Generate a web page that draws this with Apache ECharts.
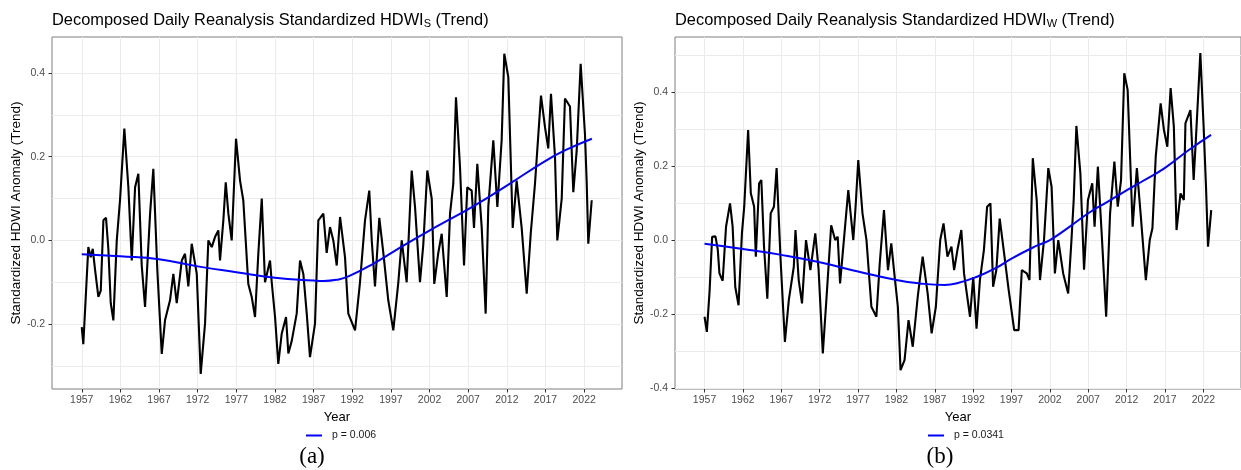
<!DOCTYPE html>
<html>
<head>
<meta charset="utf-8">
<title>Decomposed Daily Reanalysis Standardized HDWI (Trend)</title>
<script src="https://cdn.jsdelivr.net/npm/echarts@6/dist/echarts.min.js"></script>
<style>
  html, body { margin: 0; padding: 0; background: #ffffff; }
  #chart { width: 1241px; height: 470px; }
</style>
</head>
<body>
<div id="chart"></div>
<script>
// ---- Panel (a): HDWI_S trend component ----
const yearsS = [1957.0,1957.2,1957.56,1957.85,1958.16,1958.42,1958.72,1959.15,1959.46,1959.8,
  1960.14,1960.44,1960.75,1961.09,1961.53,1961.95,1962.51,1963.03,1963.47,1963.9,
  1964.32,1964.76,1965.19,1965.84,1966.26,1966.78,1967.35,1967.78,1968.42,1968.85,
  1969.29,1969.94,1970.36,1970.79,1971.23,1971.88,1972.39,1972.95,1973.38,1973.82,
  1974.24,1974.67,1974.89,1975.32,1975.63,1975.97,1976.4,1976.96,1977.48,1977.9,
  1978.55,1978.99,1979.42,1979.85,1980.29,1980.71,1981.36,1981.58,1982.01,1982.43,
  1982.87,1983.43,1983.73,1984.17,1984.81,1985.24,1985.67,1986.11,1986.53,1987.18,
  1987.61,1988.26,1988.69,1989.12,1989.55,1989.99,1990.42,1991.06,1991.49,1992.36,
  1993.0,1993.65,1994.2,1994.52,1994.94,1995.5,1996.02,1996.66,1997.31,1997.96,
  1998.4,1999.04,1999.69,2000.12,2000.76,2001.19,2001.71,2002.28,2002.61,2003.13,
  2003.57,2004.22,2004.65,2005.07,2005.42,2005.94,2006.46,2006.88,2007.45,2007.75,
  2008.18,2008.75,2009.26,2009.6,2010.25,2010.77,2011.33,2011.67,2012.19,2012.76,
  2013.27,2013.92,2014.57,2015.09,2015.64,2016.42,2016.94,2017.36,2017.71,2018.23,
  2018.53,2019.1,2019.52,2020.17,2020.6,2021.04,2021.55,2022.11,2022.33,2022.54,
  2022.98];
const valuesS = [-0.207,-0.248,-0.12,-0.016,-0.04,-0.02,-0.07,-0.135,-0.12,0.048,
  0.054,-0.02,-0.15,-0.191,0.0,0.096,0.267,0.127,-0.048,0.127,
  0.159,-0.06,-0.159,0.064,0.171,-0.072,-0.271,-0.19,-0.143,-0.08,
  -0.15,-0.048,-0.032,-0.11,-0.008,-0.08,-0.319,-0.199,0.0,-0.016,
  0.008,0.024,-0.048,0.048,0.139,0.064,0.0,0.243,0.143,0.096,
  -0.104,-0.135,-0.183,-0.03,0.1,-0.1,-0.048,-0.10,-0.183,-0.295,
  -0.223,-0.183,-0.27,-0.24,-0.175,-0.048,-0.08,-0.175,-0.279,-0.199,
  0.048,0.064,-0.03,0.032,0.0,-0.06,0.056,-0.04,-0.175,-0.215,
  -0.1,0.048,0.119,0.0,-0.11,0.054,-0.03,-0.143,-0.215,-0.1,
  0.0,-0.1,0.167,0.08,-0.1,-0.01,0.167,0.1,-0.104,-0.03,
  0.016,-0.135,0.064,0.135,0.342,0.175,-0.06,0.127,0.119,0.03,
  0.183,0.03,-0.175,0.08,0.239,0.08,0.24,0.446,0.39,0.03,
  0.143,0.03,-0.127,0.016,0.135,0.346,0.27,0.22,0.35,0.2,
  0.0,0.1,0.339,0.32,0.115,0.215,0.422,0.253,0.14,-0.008,
  0.096];
// smoothed (loess) fit for panel (a)
const fitYearsS = [1957,1962,1967,1972,1977,1982,1987,1988.3,1990,1991.5,1994.7,1999,2003,2007.7,2012,2016.9,2019.5,2023];
const fitS = [-0.033,-0.038,-0.045,-0.062,-0.076,-0.089,-0.096,-0.097,-0.094,-0.086,-0.056,-0.008,0.034,0.082,0.131,0.189,0.215,0.243];

// ---- Panel (b): HDWI_W trend component ----
const yearsW = [1957.0,1957.3,1957.65,1957.99,1958.42,1958.72,1958.94,1959.36,1959.8,1960.32,
  1960.66,1961.0,1961.43,1961.87,1962.17,1962.68,1963.03,1963.46,1963.68,1964.11,
  1964.4,1964.75,1965.18,1965.62,1966.04,1966.39,1966.91,1967.47,1967.98,1968.63,
  1968.85,1969.27,1969.7,1970.22,1970.79,1971.43,1971.86,1972.41,1972.93,1973.5,
  1974.02,1974.35,1974.66,1975.31,1975.73,1976.38,1976.68,1977.03,1977.58,1978.1,
  1978.74,1979.39,1979.83,1980.38,1980.9,1981.33,1981.77,1982.19,1982.54,1983.06,
  1983.58,1984.13,1984.78,1985.42,1986.07,1986.59,1987.14,1987.71,1988.14,1988.65,
  1989.17,1989.52,1989.95,1990.46,1990.81,1991.59,1992.01,1992.44,1992.88,1993.4,
  1993.82,1994.25,1994.6,1995.02,1995.46,1995.98,1996.63,1997.35,1997.92,1998.34,
  1998.99,1999.34,1999.77,2000.28,2000.71,2001.23,2001.79,2002.22,2002.65,2003.09,
  2003.73,2004.38,2004.81,2005.1,2005.45,2005.97,2006.45,2006.96,2007.52,2007.82,
  2008.25,2008.77,2009.33,2009.84,2010.4,2010.84,2011.27,2011.69,2012.13,2012.78,
  2013.33,2013.85,2014.5,2015.01,2015.36,2015.79,2016.43,2016.86,2017.3,2017.73,
  2018.15,2018.5,2019.02,2019.45,2019.66,2020.31,2020.73,2021.04,2021.6,2022.03,
  2022.34,2022.6,2023.02];
const valuesW = [-0.207,-0.248,-0.14,0.009,0.01,-0.025,-0.09,-0.11,0.036,0.099,
  0.036,-0.126,-0.176,0.018,0.09,0.297,0.126,0.09,-0.045,0.153,
  0.162,-0.018,-0.158,0.072,0.09,0.194,-0.054,-0.275,-0.162,-0.072,
  0.027,-0.108,-0.171,0.0,-0.081,0.018,-0.08,-0.306,-0.144,0.04,
  0.0,0.009,-0.117,0.036,0.135,0.0,0.09,0.216,0.072,0.0,
  -0.18,-0.207,-0.063,0.081,-0.081,-0.009,-0.099,-0.18,-0.351,-0.324,
  -0.216,-0.288,-0.153,-0.045,-0.144,-0.252,-0.18,0.0,0.045,-0.045,
  -0.018,-0.081,-0.027,0.027,-0.09,-0.207,-0.1,-0.239,-0.108,-0.027,
  0.09,0.099,-0.126,-0.081,0.058,-0.027,-0.135,-0.243,-0.243,-0.081,
  -0.09,-0.108,0.221,0.108,-0.108,0.0,0.194,0.144,-0.09,0.0,
  -0.09,-0.144,0.0,0.108,0.308,0.18,-0.08,0.108,0.153,0.036,
  0.198,0.009,-0.207,0.072,0.212,0.09,0.162,0.45,0.405,0.036,
  0.194,0.063,-0.108,0.0,0.032,0.225,0.369,0.297,0.252,0.41,
  0.306,0.027,0.126,0.108,0.315,0.351,0.162,0.279,0.505,0.306,
  0.144,-0.018,0.081];
// smoothed (loess) fit for panel (b)
const fitYearsW = [1957,1962,1967,1972,1977,1982,1985,1988.3,1990,1992.5,1995,1997,2000,2002,2004.5,2007.2,2009.5,2011.5,2014,2017,2020.1,2023];
const fitW = [-0.010,-0.024,-0.040,-0.060,-0.085,-0.108,-0.117,-0.121,-0.116,-0.099,-0.075,-0.05,-0.018,0.0,0.035,0.075,0.103,0.128,0.158,0.195,0.243,0.284];

// ---- Axis ticks and labels ----
const yearTicks = [1957,1962,1967,1972,1977,1982,1987,1992,1997,2002,2007,2012,2017,2022];
const yTicksS = [-0.2,0.0,0.2,0.4];
const yMinorS = [-0.3,-0.1,0.1,0.3];
const yTicksW = [-0.4,-0.2,0.0,0.2,0.4];
const yMinorW = [-0.3,-0.1,0.1,0.3,0.5];
const titleS = 'Decomposed Daily Reanalysis Standardized HDWI{sub|S} (Trend)';
const titleW = 'Decomposed Daily Reanalysis Standardized HDWI{sub|W} (Trend)';
const yName = 'Standardized HDWI Anomaly (Trend)';
const xName = 'Year';
const legendS = 'p = 0.006';
const legendW = 'p = 0.0341';

const FONT = '"Liberation Sans", Arial, Helvetica, sans-serif';
const SERIF = '"Liberation Serif", "DejaVu Serif", serif';
const GRID_COLOR = '#ebebeb';

const zip = (xs, ys) => xs.map((x, i) => [x, ys[i]]);

function titleOpt(text, left) {
  return {
    text: text, left: left, top: 11, padding: 0,
    textStyle: {
      fontFamily: FONT, fontSize: 16.4, fontWeight: 'normal', color: '#000', lineHeight: 18,
      rich: { sub: { fontFamily: FONT, fontSize: 11, color: '#000', verticalAlign: 'bottom', lineHeight: 9 } }
    }
  };
}

function xAxisOpt(gridIndex) {
  return {
    gridIndex: gridIndex, type: 'value', min: 1953.15, max: 2026.9, position: 'bottom',
    name: xName, nameLocation: 'middle', nameGap: 20,
    nameTextStyle: { fontFamily: FONT, fontSize: 13, color: '#000' },
    axisLine: { show: false, onZero: false },
    axisTick: { show: true, length: 3.5, customValues: yearTicks, lineStyle: { color: '#333', width: 1 } },
    axisLabel: { customValues: yearTicks, fontFamily: FONT, fontSize: 10.5, color: '#4d4d4d', margin: 6,
                 formatter: v => String(Math.round(v)) },
    splitLine: { show: true, lineStyle: { color: GRID_COLOR, width: 1 } }
  };
}

function yAxisOpt(gridIndex, min, max, ticks) {
  return {
    gridIndex: gridIndex, type: 'value', min: min, max: max, position: 'left',
    name: yName, nameLocation: 'middle', nameGap: 28, nameRotate: 90,
    nameTextStyle: { fontFamily: FONT, fontSize: 13.5, color: '#000' },
    axisLine: { show: false, onZero: false },
    axisTick: { show: true, length: 3.5, customValues: ticks, lineStyle: { color: '#333', width: 1 } },
    axisLabel: { customValues: ticks, fontFamily: FONT, fontSize: 10.5, color: '#4d4d4d', margin: 7,
                 formatter: v => v.toFixed(1) },
    splitLine: { show: true, lineStyle: { color: GRID_COLOR, width: 1 } }
  };
}

// second value axis on each panel carrying only the minor horizontal grid lines
function yMinorOpt(gridIndex, min, max, ticks) {
  return {
    gridIndex: gridIndex, type: 'value', min: min, max: max, position: 'left',
    axisLine: { show: false, onZero: false },
    axisTick: { show: false, customValues: ticks },
    axisLabel: { show: false },
    splitLine: { show: true, lineStyle: { color: GRID_COLOR, width: 1 } }
  };
}

function legendOpt(name, left) {
  return {
    data: [name], left: left, top: 430, padding: 0, orient: 'horizontal',
    icon: 'rect', itemWidth: 16, itemHeight: 2, selectedMode: false,
    textStyle: { fontFamily: FONT, fontSize: 10.5, color: '#1a1a1a', padding: [0, 0, 0, 5] }
  };
}

const option = {
  animation: false,
  backgroundColor: '#ffffff',
  title: [
    titleOpt(titleS, 52),
    titleOpt(titleW, 675),
    { text: '(a)', left: 312, top: 445, padding: 0, textAlign: 'center',
      textStyle: { fontFamily: SERIF, fontSize: 23, fontWeight: 'normal', color: '#000' } },
    { text: '(b)', left: 940, top: 445, padding: 0, textAlign: 'center',
      textStyle: { fontFamily: SERIF, fontSize: 23, fontWeight: 'normal', color: '#000' } }
  ],
  legend: [legendOpt(legendS, 306), legendOpt(legendW, 928)],
  grid: [
    { left: 52, top: 37, width: 570, height: 352, show: true, borderColor: '#7f7f7f', borderWidth: 1, backgroundColor: 'transparent' },
    { left: 675, top: 37, width: 571, height: 352, show: true, borderColor: '#7f7f7f', borderWidth: 1, backgroundColor: 'transparent' }
  ],
  xAxis: [xAxisOpt(0), xAxisOpt(1)],
  yAxis: [
    yAxisOpt(0, -0.355, 0.486, yTicksS),
    yMinorOpt(0, -0.355, 0.486, yMinorS),
    yAxisOpt(1, -0.402, 0.548, yTicksW),
    yMinorOpt(1, -0.402, 0.548, yMinorW)
  ],
  series: [
    { type: 'line', name: 'HDWI_S trend', xAxisIndex: 0, yAxisIndex: 0, data: zip(yearsS, valuesS),
      symbol: 'none', lineStyle: { color: '#000', width: 2.1 }, itemStyle: { color: '#000' }, z: 3 },
    { type: 'line', name: legendS, xAxisIndex: 0, yAxisIndex: 0, data: zip(fitYearsS, fitS), smooth: true,
      symbol: 'none', lineStyle: { color: '#0000ff', width: 2 }, itemStyle: { color: '#0000ff' }, z: 4 },
    { type: 'line', name: 'HDWI_W trend', xAxisIndex: 1, yAxisIndex: 2, data: zip(yearsW, valuesW),
      symbol: 'none', lineStyle: { color: '#000', width: 2.1 }, itemStyle: { color: '#000' }, z: 3 },
    { type: 'line', name: legendW, xAxisIndex: 1, yAxisIndex: 2, data: zip(fitYearsW, fitW), smooth: true,
      symbol: 'none', lineStyle: { color: '#0000ff', width: 2 }, itemStyle: { color: '#0000ff' }, z: 4 }
  ]
};

const chart = echarts.init(document.getElementById('chart'), null, { renderer: 'canvas' });
chart.setOption(option);
</script>
</body>
</html>
